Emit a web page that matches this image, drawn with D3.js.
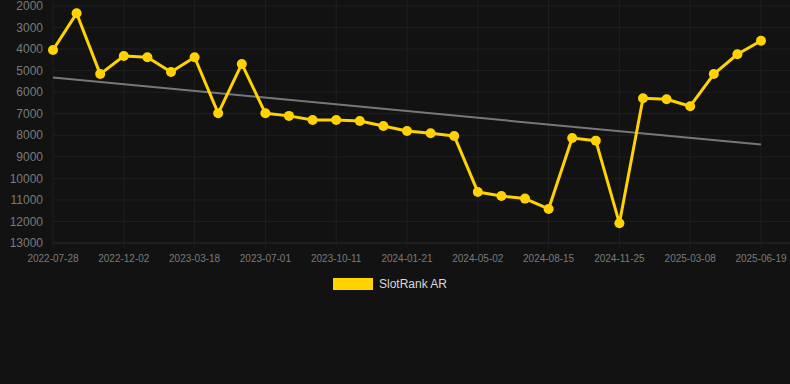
<!DOCTYPE html>
<html>
<head>
<meta charset="utf-8">
<script src="https://cdn.jsdelivr.net/npm/d3@7"></script>
<style>
  html, body { margin: 0; padding: 0; background: #121212; }
  svg { display: block; font-family: "Liberation Sans", Arial, sans-serif; }
</style>
</head>
<body>
<div id="chart"></div>
<script>
// categories (dates) - only every 3rd one is labelled on the axis
const dates = [
  "2022-07-28", "2022-09-09", "2022-10-21", "2022-12-02", "2023-01-06", "2023-02-11",
  "2023-03-18", "2023-04-23", "2023-05-27", "2023-07-01", "2023-08-04", "2023-09-07",
  "2023-10-11", "2023-11-14", "2023-12-18", "2024-01-21", "2024-02-24", "2024-03-29",
  "2024-05-02", "2024-06-05", "2024-07-10", "2024-08-15", "2024-09-18", "2024-10-22",
  "2024-11-25", "2024-12-29", "2025-02-01", "2025-03-08", "2025-04-11", "2025-05-15",
  "2025-06-19"
];

// rank values
const rankAR = [
  4040, 2340, 5160, 4320, 4380, 5060, 4380, 6980, 4690, 6980,
  7100, 7290, 7290, 7340, 7570, 7800, 7910, 8030, 10630, 10820,
  10940, 11420, 8130, 8250, 12080, 6280, 6330, 6650, 5160, 4240,
  3610
];

const yTicks = [2000, 3000, 4000, 5000, 6000, 7000, 8000, 9000, 10000, 11000, 12000, 13000];
const seriesName = "SlotRank AR";

const width = 790, height = 384;
const plotLeft = 53, plotRight = 761, plotTop = 6, plotBottom = 243;

const svg = d3.select("#chart").append("svg")
    .attr("width", width)
    .attr("height", height);

svg.append("rect").attr("width", width).attr("height", height).attr("fill", "#121212");

const x = d3.scalePoint().domain(dates).range([plotLeft, plotRight]);
const y = d3.scaleLinear().domain([2000, 13000]).range([plotTop, plotBottom]);

// horizontal grid
svg.append("g")
  .selectAll("line")
  .data(yTicks)
  .join("line")
    .attr("x1", plotLeft)
    .attr("x2", width)
    .attr("y1", d => y(d))
    .attr("y2", d => y(d))
    .attr("stroke", d => d === 13000 ? "#2a2a2a" : "#1f1f1f")
    .attr("stroke-width", 1);

// vertical grid at labelled categories
const xTickDates = dates.filter((d, i) => i % 3 === 0);
svg.append("g")
  .selectAll("line")
  .data(xTickDates)
  .join("line")
    .attr("x1", d => x(d))
    .attr("x2", d => x(d))
    .attr("y1", 0)
    .attr("y2", plotBottom + 5)
    .attr("stroke", "#1f1f1f")
    .attr("stroke-width", 1);

// y labels
svg.append("g")
  .selectAll("text")
  .data(yTicks)
  .join("text")
    .attr("x", 43)
    .attr("y", d => y(d))
    .attr("dy", "0.35em")
    .attr("text-anchor", "end")
    .attr("fill", "#7a7a7a")
    .attr("font-size", "12px")
    .text(d => d);

// x labels
svg.append("g")
  .selectAll("text")
  .data(xTickDates)
  .join("text")
    .attr("x", d => x(d))
    .attr("y", 262)
    .attr("text-anchor", "middle")
    .attr("fill", "#7a7a7a")
    .attr("font-size", "10px")
    .text(d => d);

// trend line (least squares over the category index)
const n = rankAR.length;
const meanI = d3.mean(rankAR, (v, i) => i);
const meanV = d3.mean(rankAR);
const slope = d3.sum(rankAR, (v, i) => (i - meanI) * (v - meanV)) /
              d3.sum(rankAR, (v, i) => (i - meanI) * (i - meanI));
const intercept = meanV - slope * meanI;
const trend = [0, n - 1].map(i => ({ d: dates[i], v: intercept + slope * i }));

svg.append("path")
    .datum(trend)
    .attr("fill", "none")
    .attr("stroke", "#777")
    .attr("stroke-width", 2)
    .attr("d", d3.line().x(p => x(p.d)).y(p => y(p.v)));

// main series
const pts = dates.map((d, i) => ({ d: d, v: rankAR[i] }));
svg.append("path")
    .datum(pts)
    .attr("fill", "none")
    .attr("stroke", "#ffd200")
    .attr("stroke-width", 3)
    .attr("stroke-linejoin", "round")
    .attr("d", d3.line().x(p => x(p.d)).y(p => y(p.v)));

svg.append("g")
  .selectAll("circle")
  .data(pts)
  .join("circle")
    .attr("cx", p => x(p.d))
    .attr("cy", p => y(p.v))
    .attr("r", 5)
    .attr("fill", "#ffd200");

// legend
const legend = svg.append("g").attr("transform", "translate(333,278)");
legend.append("rect")
    .attr("width", 40)
    .attr("height", 12)
    .attr("fill", "#ffd200");
legend.append("text")
    .attr("x", 46)
    .attr("y", 6)
    .attr("dy", "0.35em")
    .attr("fill", "#d8d8d8")
    .attr("font-size", "12px")
    .text(seriesName);
</script>
</body>
</html>
